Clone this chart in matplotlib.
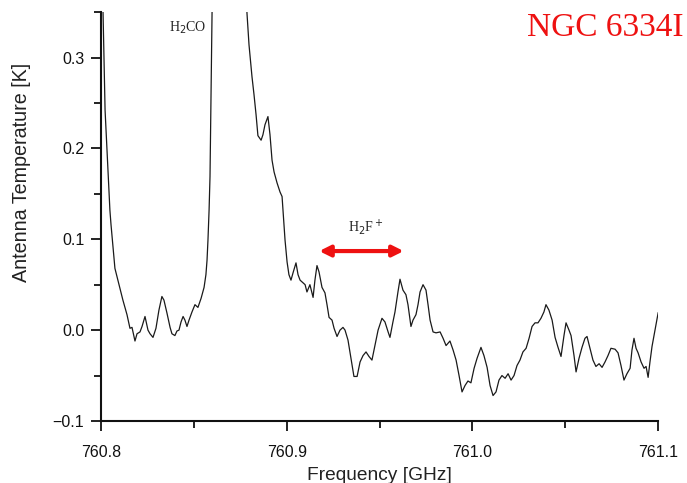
"""
NGC 6334I spectrum around the H2F+ line (760.8 - 761.1 GHz).
"""

import matplotlib
matplotlib.use("Agg")
import matplotlib.pyplot as plt
from matplotlib.ticker import MultipleLocator

SANS = ["Liberation Sans", "DejaVu Sans"]
SERIF = ["Liberation Serif", "DejaVu Serif"]

# ── Spectrum (GHz, K) ──
freq = [
    760.8000, 760.8011, 760.8022, 760.8048, 760.8054, 760.8075, 760.8097, 760.8118,
    760.8140, 760.8156, 760.8167, 760.8183, 760.8194, 760.8210, 760.8221, 760.8237,
    760.8253, 760.8264, 760.8280, 760.8296, 760.8312, 760.8328, 760.8339, 760.8355,
    760.8372, 760.8382, 760.8398, 760.8409, 760.8420, 760.8431, 760.8442, 760.8452,
    760.8463, 760.8474, 760.8490, 760.8506, 760.8522, 760.8539, 760.8555, 760.8565,
    760.8571, 760.8576, 760.8582, 760.8587, 760.8592, 760.8598, 760.8605, 760.8660,
    760.8740, 760.8781, 760.8786, 760.8797, 760.8813, 760.8824, 760.8835, 760.8845,
    760.8862, 760.8872, 760.8883, 760.8899, 760.8910, 760.8921, 760.8932, 760.8948,
    760.8964, 760.8975, 760.8980, 760.8991, 760.9002, 760.9012, 760.9023, 760.9034,
    760.9050, 760.9061, 760.9072, 760.9088, 760.9099, 760.9109, 760.9125, 760.9142,
    760.9152, 760.9163, 760.9174, 760.9190, 760.9206, 760.9217, 760.9228, 760.9244,
    760.9255, 760.9271, 760.9287, 760.9303, 760.9314, 760.9330, 760.9346, 760.9362,
    760.9379, 760.9395, 760.9411, 760.9427, 760.9443, 760.9459, 760.9475, 760.9492,
    760.9513, 760.9529, 760.9546, 760.9556, 760.9572, 760.9583, 760.9599, 760.9610,
    760.9626, 760.9642, 760.9653, 760.9669, 760.9680, 760.9696, 760.9707, 760.9718,
    760.9734, 760.9750, 760.9761, 760.9772, 760.9788, 760.9804, 760.9826, 760.9842,
    760.9858, 760.9879, 760.9896, 760.9912, 760.9928, 760.9944, 760.9960, 760.9976,
    760.9992, 761.0009, 761.0025, 761.0046, 761.0062, 761.0079, 761.0095, 761.0111,
    761.0127, 761.0143, 761.0159, 761.0176, 761.0192, 761.0208, 761.0224, 761.0240,
    761.0256, 761.0272, 761.0289, 761.0305, 761.0321, 761.0337, 761.0353, 761.0369,
    761.0385, 761.0396, 761.0412, 761.0429, 761.0445, 761.0461, 761.0477, 761.0493,
    761.0504, 761.0520, 761.0531, 761.0547, 761.0558, 761.0574, 761.0590, 761.0606,
    761.0617, 761.0633, 761.0649, 761.0665, 761.0682, 761.0698, 761.0714, 761.0730,
    761.0746, 761.0768, 761.0784, 761.0800, 761.0816, 761.0832, 761.0849, 761.0859,
    761.0870, 761.0881, 761.0892, 761.0908, 761.0924, 761.0935, 761.0946, 761.0956,
    761.0967, 761.0983, 761.1000,
]
temp = [
    0.450, 0.350, 0.242, 0.132, 0.116, 0.068, 0.050, 0.033,
    0.017, 0.002, 0.003, -0.012, -0.004, -0.002, 0.004, 0.015,
    0.000, -0.004, -0.008, 0.002, 0.022, 0.037, 0.033, 0.019,
    0.003, -0.004, -0.006, -0.001, 0.000, 0.009, 0.015, 0.011,
    0.004, 0.011, 0.020, 0.028, 0.025, 0.035, 0.047, 0.061,
    0.077, 0.099, 0.132, 0.169, 0.253, 0.349, 0.430, 0.900,
    0.900, 0.386, 0.349, 0.314, 0.279, 0.259, 0.237, 0.214,
    0.209, 0.215, 0.226, 0.235, 0.215, 0.187, 0.174, 0.162,
    0.152, 0.147, 0.132, 0.099, 0.075, 0.061, 0.055, 0.063,
    0.074, 0.061, 0.055, 0.052, 0.050, 0.042, 0.050, 0.036,
    0.055, 0.071, 0.064, 0.047, 0.041, 0.028, 0.014, 0.011,
    0.002, -0.007, 0.000, 0.003, 0.000, -0.011, -0.031, -0.051,
    -0.051, -0.035, -0.028, -0.024, -0.029, -0.033, -0.017, 0.000,
    0.013, 0.009, -0.002, -0.008, 0.009, 0.020, 0.042, 0.056,
    0.044, 0.039, 0.028, 0.004, 0.011, 0.017, 0.028, 0.042,
    0.050, 0.044, 0.028, 0.011, -0.002, -0.003, -0.002, -0.009,
    -0.017, -0.012, -0.022, -0.033, -0.050, -0.068, -0.061, -0.056,
    -0.058, -0.042, -0.031, -0.019, -0.028, -0.041, -0.061, -0.072,
    -0.068, -0.055, -0.050, -0.053, -0.048, -0.055, -0.050, -0.039,
    -0.033, -0.024, -0.020, -0.009, 0.004, 0.008, 0.008, 0.013,
    0.020, 0.028, 0.022, 0.011, -0.008, -0.019, -0.029, -0.006,
    0.008, 0.000, -0.006, -0.028, -0.046, -0.031, -0.019, -0.009,
    -0.007, -0.020, -0.033, -0.040, -0.037, -0.041, -0.035, -0.028,
    -0.020, -0.021, -0.025, -0.039, -0.055, -0.048, -0.042, -0.022,
    -0.009, -0.020, -0.025, -0.035, -0.042, -0.040, -0.052, -0.035,
    -0.018, 0.000, 0.019,
]

x_ticks = [760.8, 760.9, 761.0, 761.1]
x_ticklabels = ["760.8", "760.9", "761.0", "761.1"]
y_ticks = [-0.1, 0.0, 0.1, 0.2, 0.3]
y_ticklabels = ["\u22120.1", "0.0", "0.1", "0.2", "0.3"]

fig = plt.figure(figsize=(6.87, 4.83), dpi=100)
ax = fig.add_axes([0.147, 0.1284, 0.811, 0.8466])

ax.plot(freq, temp, color="#1a1a1a", linewidth=0.9, zorder=3)

ax.set_xlim(760.8, 761.1)
ax.set_ylim(-0.1, 0.35)
ax.set_xticks(x_ticks)
ax.set_xticklabels(x_ticklabels, fontsize=11.5, family=SANS)
ax.set_yticks(y_ticks)
ax.set_yticklabels(y_ticklabels, fontsize=11.5, family=SANS)
ax.xaxis.set_minor_locator(MultipleLocator(0.05))
ax.yaxis.set_minor_locator(MultipleLocator(0.05))
ax.tick_params(which="major", direction="out", length=7, width=1.3, colors="#111111")
ax.tick_params(which="minor", direction="out", length=5, width=1.3, colors="#111111")
ax.tick_params(axis="x", which="major", pad=10)
ax.tick_params(axis="y", which="major", pad=5)

for side in ("top", "right"):
    ax.spines[side].set_visible(False)
for side in ("left", "bottom"):
    ax.spines[side].set_linewidth(1.5)
    ax.spines[side].set_color("#111111")

ax.set_xlabel("Frequency [GHz]", fontsize=13.8, family=SANS, labelpad=5, color="#222222")
ax.set_ylabel("Antenna Temperature [K]", fontsize=14.2, family=SANS, color="#222222")
ax.yaxis.set_label_coords(-0.125, 0.609)

# ── Line labels ──
ax.text(760.8468, 0.333, r"H$_2$CO", fontsize=10, family=SERIF, ha="center", va="center",
        color="#222222")
ax.text(760.9427, 0.113, r"H$_2$F$^+$", fontsize=10, family=SERIF, ha="center", va="center",
        color="#222222")
ax.annotate("", xy=(760.9175, 0.087), xytext=(760.9630, 0.087),
            arrowprops=dict(arrowstyle="<|-|>", color="#ee1111", lw=3,
                            mutation_scale=16, shrinkA=0, shrinkB=0))

fig.text(0.9956, 0.942, "NGC 6334I", fontsize=24, family=SERIF, color="#ee1111",
         ha="right", va="center")

fig.savefig("out.png", dpi=100)
